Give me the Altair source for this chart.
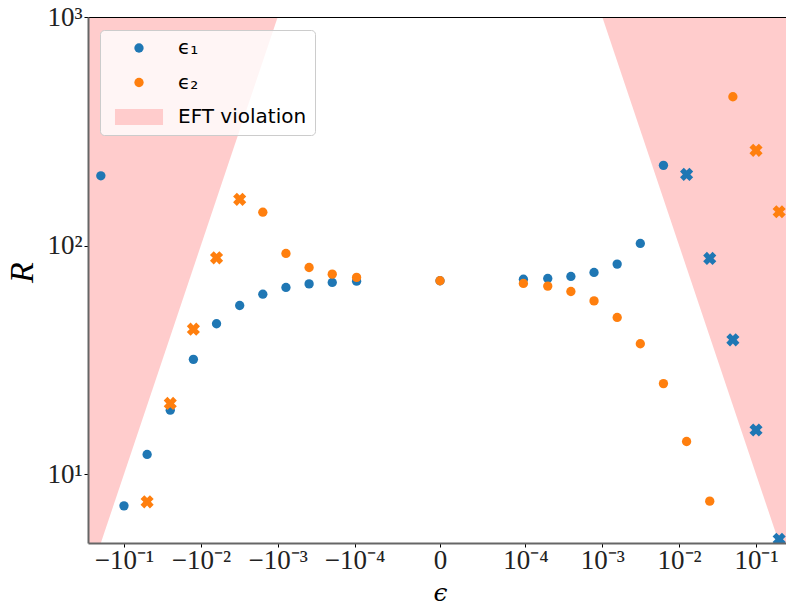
import math

import altair as alt
import pandas as pd

# ---------------- data ----------------
# epsilon grid, left of zero (most negative first) and right of zero
eps_neg = [-0.2, -0.1, -0.05, -0.025, -0.0125, -0.00625, -0.003125,
           -0.0015625, -0.00078125, -0.000390625, -0.0001953125, -0.00009765625]
eps_zero = [0.0]
eps_pos = [0.00009765625, 0.0001953125, 0.000390625, 0.00078125, 0.0015625,
           0.003125, 0.00625, 0.0125, 0.025, 0.05, 0.1, 0.2]

# R for each epsilon; a negative entry is plotted by magnitude with an X marker
r1_neg = [202, 7.27, 12.2, 19.05, 31.8, 45.5, 54.7, 61.3, 65.6, 68.0, 69.0, 69.9]
r1_zero = [70.2]
r1_pos = [71.3, 71.8, 73.3, 76.3, 83.0, 102.2, 224.4, -204.9, -87.9, -38.7, -15.6, -5.19]

r2_neg = [None, None, -7.57, -20.4, -43.1, -88.4, -159.3, 140, 92.4, 80.2, 75.0, 72.6]
r2_zero = [70.2]
r2_pos = [68.3, 66.5, 63.0, 57.3, 48.5, 37.2, 24.9, 13.9, 7.62, 448, -261, -140.6]

series_names = ["ϵ₁", "ϵ₂"]
eft_name = "EFT violation"

# EFT violation where R * |eps| > 1; straight edges in symlog-log space
eft_eps_left = [-0.3, -0.001]
eft_eps_right = [0.001, 0.3]

# axis ranges
x_limits = [-0.2938, 0.2455]
y_limits = [5, 1000]
x_tick_exponents = [-1, -2, -3, -4]
y_tick_exponents = [1, 2, 3]

# ---------------- symlog (linthresh 1e-4, linscale 1, base 10) ----------------
LT = 1e-4
LS = 1.0 / (1.0 - 1.0 / 10.0)


def symlog(v):
    if abs(v) <= LT:
        return v / LT * LS
    return math.copysign(LS + math.log10(abs(v) / LT), v)


symlog_expr = (
    f"abs(datum.eps) <= {LT} ? datum.eps / {LT} * {LS} : "
    f"(datum.eps > 0 ? 1 : -1) * ({LS} + log(abs(datum.eps) / {LT}) / LN10)"
)

SUP = str.maketrans("-0123456789", "⁻⁰¹²³⁴⁵⁶⁷⁸⁹")


def pow_label(e):
    return "10" + str(e).translate(SUP)


# x ticks: -10^-1 ... -10^-4, 0, 10^-4 ... 10^-1
x_tick_vals, x_tick_text = [], []
for e in x_tick_exponents:
    x_tick_vals.append(symlog(-(10.0 ** e)))
    x_tick_text.append("−" + pow_label(e))
x_tick_vals.append(0.0)
x_tick_text.append("0")
for e in reversed(x_tick_exponents):
    x_tick_vals.append(symlog(10.0 ** e))
    x_tick_text.append(pow_label(e))

x_label_expr = ""
for v, s in zip(x_tick_vals, x_tick_text):
    x_label_expr += f"abs(datum.value - ({v:.6f})) < 0.01 ? '{s}' : "
x_label_expr += "''"

y_label_expr = ""
for e in y_tick_exponents:
    y_label_expr += f"abs(datum.value - {10 ** e}) < 0.5 ? '{pow_label(e)}' : "
y_label_expr += "''"

# ---------------- tables ----------------
rows = []
for name, neg, zero, pos in [(series_names[0], r1_neg, r1_zero, r1_pos),
                             (series_names[1], r2_neg, r2_zero, r2_pos)]:
    for e, r in zip(eps_neg + eps_zero + eps_pos, neg + zero + pos):
        if r is not None:
            rows.append({"eps": e, "R": r, "series": name})
points = pd.DataFrame(rows)

eft = pd.DataFrame({
    "eps": eft_eps_left + eft_eps_right,
    "side": ["left"] * len(eft_eps_left) + ["right"] * len(eft_eps_right),
    "series": [eft_name] * (len(eft_eps_left) + len(eft_eps_right)),
})

# ---------------- scales, axes, legend ----------------
BLUE, ORANGE, PINK = "#1f77b4", "#ff7f0e", "#ffcccc"
SERIF = "Liberation Serif"
MATH = "DejaVu Serif"
TICK_FS = 27

x_scale = alt.Scale(domain=[symlog(x_limits[0]), symlog(x_limits[1])], nice=False, zero=False)
y_scale = alt.Scale(type="log", domain=y_limits, nice=False)

legend_domain = series_names + [eft_name]
color_scale = alt.Scale(domain=legend_domain, range=[BLUE, ORANGE, PINK])
# wide flat patch for the shaded-region entry
patch_path = "M-5.15,-1.72H5.15V1.72H-5.15Z"
shape_scale = alt.Scale(domain=legend_domain, range=["circle", "circle", patch_path])

legend = alt.Legend(
    title=None, orient="none", legendX=12, legendY=13,
    padding=8, rowPadding=14.5, symbolOffset=21, labelOffset=29,
    symbolSize=87, symbolStrokeWidth=0, symbolOpacity=1,
    labelFont="DejaVu Sans", labelFontSize=20, labelColor="black", labelLimit=400,
)

x_axis_bottom = alt.Axis(
    values=x_tick_vals, labelExpr=x_label_expr, title="ϵ",
    titleFont=MATH, titleFontSize=25, titleFontWeight="normal", titleFontStyle="italic",
    titleX=352, titleY=57, titleBaseline="alphabetic", titleColor="black",
    labelFont=SERIF, labelFontSize=TICK_FS, labelColor="#222", labelPadding=0, labelFlush=False,
    labelOverlap=False, grid=False, tickColor="black", tickSize=4, tickWidth=1,
    domainColor="#666", domainWidth=2, zindex=1,
)
x_axis_top = alt.Axis(
    orient="top", labels=False, ticks=False, title=None, grid=False,
    domainColor="black", domainWidth=1, zindex=1,
)
y_axis = alt.Axis(
    values=[10 ** e for e in y_tick_exponents], labelExpr=y_label_expr, title="R",
    titleFont=SERIF, titleFontSize=34, titleFontWeight="normal", titleFontStyle="italic",
    titleX=-66, titleY=255, titleBaseline="middle", titleAngle=-90, titleColor="black",
    labelFont=SERIF, labelFontSize=TICK_FS, labelColor="#222", labelPadding=2,
    labelOverlap=False, labelFlush=False, grid=False,
    tickColor="black", tickSize=4, tickWidth=1, domainColor="#666", domainWidth=2, zindex=1,
)

# ---------------- layers ----------------
region = alt.Chart(eft).transform_calculate(
    t=symlog_expr, bound="1 / abs(datum.eps)"
).mark_area(clip=True, opacity=1).encode(
    x=alt.X("t:Q", scale=x_scale, axis=x_axis_top),
    y=alt.Y("bound:Q", scale=y_scale, axis=y_axis),
    y2=alt.datum(y_limits[1]),
    color=alt.Color("series:N", scale=color_scale, legend=legend),
    detail="side:N",
)

base = alt.Chart(points).transform_calculate(t=symlog_expr, absR="abs(datum.R)")

circles = base.transform_filter("datum.R > 0").mark_point(
    filled=True, opacity=1, size=87, strokeWidth=0, clip=True
).encode(
    x=alt.X("t:Q", scale=x_scale, axis=x_axis_bottom),
    y=alt.Y("absR:Q", scale=y_scale, axis=y_axis),
    color=alt.Color("series:N", scale=color_scale, legend=legend),
    shape=alt.Shape("series:N", scale=shape_scale, legend=legend),
)

crosses = base.transform_filter("datum.R < 0").mark_point(
    filled=True, opacity=1, size=176, strokeWidth=0, shape="cross", angle=45, clip=True
).encode(
    x=alt.X("t:Q", scale=x_scale, axis=None),
    y=alt.Y("absR:Q", scale=y_scale, axis=y_axis),
    color=alt.Color("series:N", scale=color_scale, legend=legend),
)

chart = alt.layer(region, circles, crosses).resolve_axis(x="independent").properties(
    width=698, height=526,
    autosize=alt.AutoSizeParams(type="none"),
    padding={"left": 88, "top": 17, "right": 0, "bottom": 63},
).configure_view(stroke=None).configure_legend(
    fillColor="rgba(255,255,255,0.8)", strokeColor="#cccccc", strokeWidth=1, cornerRadius=4,
)

chart.save("out.html", embed_options={"renderer": "svg", "actions": False})
